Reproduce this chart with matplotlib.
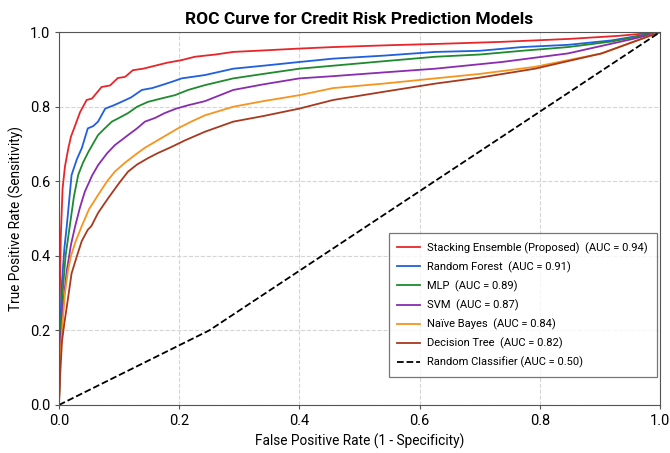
import matplotlib
matplotlib.use("Agg")
import matplotlib.pyplot as plt

plt.rcParams["font.family"] = ["Roboto", "DejaVu Sans"]

# ROC points (FPR, TPR)
stack_fpr = [0.0, 0.001, 0.003, 0.006, 0.010, 0.0155, 0.020, 0.027, 0.035, 0.046, 0.055, 0.071,
             0.085, 0.098, 0.110, 0.123, 0.140, 0.160, 0.180, 0.204, 0.226, 0.260, 0.290, 0.340,
             0.400, 0.456, 0.550, 0.640, 0.737, 0.850, 0.930, 1.0]
stack_tpr = [0.0, 0.25, 0.45, 0.58, 0.64, 0.688, 0.72, 0.75, 0.785, 0.818, 0.822, 0.853,
             0.857, 0.877, 0.880, 0.898, 0.902, 0.910, 0.918, 0.925, 0.934, 0.940, 0.947, 0.951,
             0.956, 0.960, 0.965, 0.969, 0.974, 0.982, 0.990, 1.0]

rf_fpr = [0.0, 0.002, 0.005, 0.009, 0.013, 0.021, 0.030, 0.038, 0.048, 0.057, 0.065, 0.077,
          0.090, 0.104, 0.120, 0.138, 0.155, 0.171, 0.190, 0.204, 0.243, 0.290, 0.340, 0.400,
          0.456, 0.540, 0.626, 0.700, 0.770, 0.847, 0.920, 1.0]
rf_tpr = [0.0, 0.20, 0.33, 0.42, 0.48, 0.617, 0.66, 0.689, 0.742, 0.748, 0.760, 0.795,
          0.803, 0.813, 0.825, 0.845, 0.850, 0.858, 0.868, 0.876, 0.885, 0.902, 0.910, 0.920,
          0.929, 0.937, 0.947, 0.950, 0.960, 0.966, 0.978, 1.0]

mlp_fpr = [0.0, 0.002, 0.006, 0.011, 0.018, 0.025, 0.032, 0.040, 0.049, 0.065, 0.075, 0.088,
           0.100, 0.115, 0.130, 0.148, 0.170, 0.193, 0.215, 0.243, 0.290, 0.340, 0.400, 0.456,
           0.540, 0.626, 0.700, 0.770, 0.847, 0.920, 1.0]
mlp_tpr = [0.0, 0.17, 0.30, 0.40, 0.48, 0.56, 0.617, 0.650, 0.679, 0.724, 0.740, 0.760,
           0.770, 0.783, 0.800, 0.813, 0.822, 0.831, 0.845, 0.858, 0.876, 0.888, 0.902, 0.910,
           0.922, 0.934, 0.940, 0.950, 0.960, 0.975, 1.0]

svm_fpr = [0.0, 0.002, 0.007, 0.013, 0.020, 0.027, 0.035, 0.043, 0.055, 0.065, 0.080, 0.093,
           0.115, 0.130, 0.143, 0.160, 0.176, 0.195, 0.215, 0.243, 0.290, 0.340, 0.400, 0.456,
           0.540, 0.626, 0.737, 0.847, 0.958, 1.0]
svm_tpr = [0.0, 0.15, 0.27, 0.36, 0.43, 0.48, 0.53, 0.572, 0.615, 0.643, 0.675, 0.697,
           0.724, 0.742, 0.760, 0.770, 0.783, 0.795, 0.804, 0.815, 0.845, 0.860, 0.876, 0.882,
           0.892, 0.902, 0.920, 0.943, 0.983, 1.0]

nb_fpr = [0.0, 0.002, 0.006, 0.010, 0.015, 0.020, 0.028, 0.038, 0.050, 0.065, 0.080, 0.093,
          0.110, 0.126, 0.143, 0.160, 0.180, 0.198, 0.220, 0.243, 0.290, 0.340, 0.400, 0.456,
          0.540, 0.626, 0.700, 0.792, 0.903, 1.0]
nb_tpr = [0.0, 0.12, 0.22, 0.30, 0.36, 0.40, 0.44, 0.48, 0.525, 0.563, 0.600, 0.626,
          0.650, 0.670, 0.690, 0.706, 0.725, 0.742, 0.760, 0.777, 0.800, 0.815, 0.831, 0.850,
          0.862, 0.876, 0.888, 0.907, 0.943, 1.0]

dt_fpr = [0.0, 0.002, 0.005, 0.009, 0.013, 0.021, 0.030, 0.038, 0.048, 0.054, 0.065, 0.082,
          0.100, 0.115, 0.130, 0.148, 0.165, 0.187, 0.210, 0.243, 0.290, 0.340, 0.400, 0.456,
          0.540, 0.626, 0.700, 0.792, 0.903, 1.0]
dt_tpr = [0.0, 0.08, 0.17, 0.22, 0.263, 0.353, 0.40, 0.44, 0.47, 0.48, 0.515, 0.555,
          0.595, 0.626, 0.645, 0.662, 0.676, 0.692, 0.710, 0.733, 0.760, 0.775, 0.795, 0.818,
          0.840, 0.862, 0.878, 0.902, 0.943, 1.0]

rand_fpr = [0.0, 0.25, 1.0]
rand_tpr = [0.0, 0.20, 1.0]

models = ["Stacking Ensemble (Proposed)", "Random Forest", "MLP", "SVM",
          "Naïve Bayes", "Decision Tree"]
aucs = [0.94, 0.91, 0.89, 0.87, 0.84, 0.82]
colors = ["#e8262a", "#1f5fe0", "#1f8a2e", "#8a2cb0", "#f7941d", "#a8391f"]
curves = [(stack_fpr, stack_tpr), (rf_fpr, rf_tpr), (mlp_fpr, mlp_tpr),
          (svm_fpr, svm_tpr), (nb_fpr, nb_tpr), (dt_fpr, dt_tpr)]


def main() -> None:
    fig = plt.figure(figsize=(6.7, 4.53), dpi=100)
    ax = fig.add_axes([0.088, 0.106, 0.897, 0.823])

    for name, auc, c, (fx, ty) in zip(models, aucs, colors, curves):
        ax.plot(fx, ty, color=c, lw=1.3, label=f"{name}  (AUC = {auc:.2f})")
    ax.plot(rand_fpr, rand_tpr, color="black", lw=1.3, ls="--",
            label="Random Classifier (AUC = 0.50)")

    ax.set_xlim(0, 1)
    ax.set_ylim(0, 1)
    ax.set_xticks([0, 0.2, 0.4, 0.6, 0.8, 1.0])
    ax.set_yticks([0, 0.2, 0.4, 0.6, 0.8, 1.0])
    ax.tick_params(labelsize=10.5, length=3, color="#555555")
    ax.grid(True, ls="--", color="#d5d5d5", lw=0.8)
    for s in ax.spines.values():
        s.set_color("#555555")

    ax.set_title("ROC Curve for Credit Risk Prediction Models",
                 fontsize=12.5, fontweight="bold", pad=6)
    ax.set_xlabel("False Positive Rate (1 - Specificity)", fontsize=9.8)
    ax.set_ylabel("True Positive Rate (Sensitivity)", fontsize=9.8)

    leg = ax.legend(loc="lower right", fontsize=8.0, frameon=True, fancybox=False,
                    edgecolor="#555555", borderpad=0.8, labelspacing=0.68,
                    handlelength=2.0, handletextpad=0.7, borderaxespad=0.0,
                    bbox_to_anchor=(0.995, 0.075))
    leg.get_frame().set_linewidth(0.9)

    fig.savefig("out.png", dpi=100, facecolor="white")
    plt.close(fig)


if __name__ == "__main__":
    main()
